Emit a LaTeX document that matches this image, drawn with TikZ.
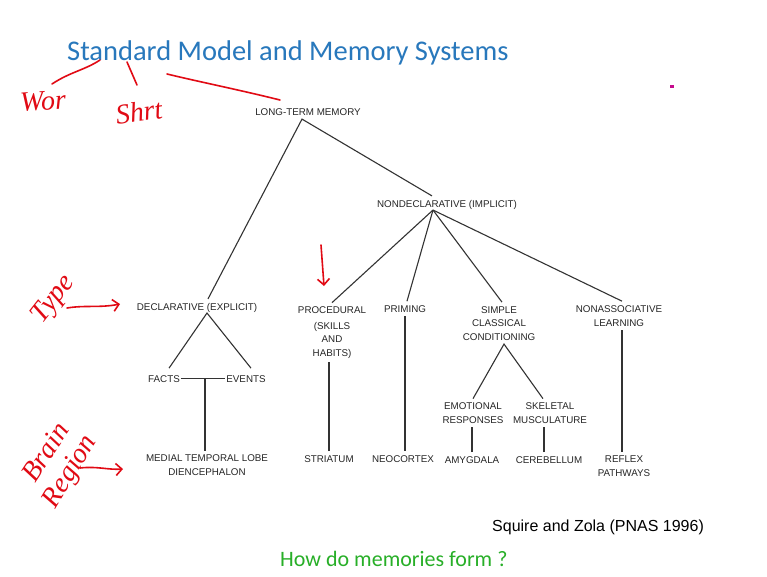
\documentclass[tikz,border=0pt]{standalone}
\usepackage{fontspec}
\setmainfont{Liberation Sans}
\newfontfamily\titlefont{Carlito}
\newfontfamily\handfont{Liberation Serif}
\usetikzlibrary{arrows.meta}
\definecolor{titleblue}{RGB}{40,120,188}
\definecolor{formgreen}{RGB}{40,175,40}
\definecolor{penred}{RGB}{225,10,20}

\begin{document}
\begin{tikzpicture}[x=1pt, y=-1pt,
    box/.style={font=\fontsize{9.8}{13.5}\selectfont, text=black!85, align=center, inner sep=0pt, outer xsep=1pt, outer ysep=4pt, anchor=base},
    link/.style={line width=1.1pt, black!80},
    pen/.style={penred, line width=1.6pt, line cap=round, line join=round},
    scrawl/.style={penred, font=\handfont\itshape\fontsize{28}{26}\selectfont, inner sep=0pt, align=center},
    >={Straight Barb[length=6pt,width=12pt]}]
  \fill[white] (0,0) rectangle (767,576);
  \useasboundingbox (0,0) rectangle (767,576);

  \node[anchor=base west, inner sep=0pt, font=\titlefont\fontsize{28.5}{28.5}\selectfont, text=titleblue] (title) at (67,60) {Standard Model and Memory Systems};

  % memory types (base = last line)
  \node[box] (ltm) at (308,115) {LONG-TERM MEMORY};
  \node[box] (nondecl) at (447,207) {NONDECLARATIVE (IMPLICIT)};
  \node[box] (decl) at (197,310) {DECLARATIVE (EXPLICIT)};
  \node[box] (proc) at (332,356) {PROCEDURAL\\[2pt](SKILLS\\AND\\HABITS)};
  \node[box] (prim) at (405,312) {PRIMING};
  \node[box] (simple) at (499,340) {SIMPLE\\CLASSICAL\\CONDITIONING};
  \node[box, font=\fontsize{9.8}{14}\selectfont] (nonassoc) at (619,326) {NONASSOCIATIVE\\LEARNING};
  \node[box] (facts) at (164,382) {FACTS};
  \node[box] (events) at (246,382) {EVENTS};
  \node[box] (emot) at (473,423) {EMOTIONAL\\RESPONSES};
  \node[box] (skel) at (550,423) {SKELETAL\\MUSCULATURE};

  % brain regions
  \node[box] (medial) at (207,475) {MEDIAL TEMPORAL LOBE\\DIENCEPHALON};
  \node[box] (striatum) at (329,462) {STRIATUM};
  \node[box] (neo) at (403,462) {NEOCORTEX};
  \node[box] (amyg) at (472,463) {AMYGDALA};
  \node[box] (cereb) at (549,463) {CEREBELLUM};
  \node[box] (reflex) at (624,476) {REFLEX\\PATHWAYS};

  \coordinate (ltmfork) at ([xshift=-6pt]ltm.south);
  \coordinate (ndfork) at ([xshift=-14pt,yshift=3pt]nondecl.south);
  \coordinate (declfork) at ([xshift=10pt,yshift=3pt]decl.south);
  \coordinate (simplefork) at ([xshift=5pt]simple.south);

  \draw[link] ([xshift=11pt]decl.north) -- (ltmfork) -- ([xshift=-15pt]nondecl.north);
  \foreach \n/\dx in {proc/0, prim/2, simple/3, nonassoc/3}
    \draw[link] (ndfork) -- ([xshift=\dx pt]\n.north);
  \draw[link] ([xshift=5pt,yshift=3pt]facts.north) -- (declfork) -- ([xshift=5pt,yshift=3pt]events.north);
  \draw[link] (facts.east) -- (events.west);
  \draw[link] ([xshift=-2pt]medial.north) -- ([xshift=-2pt]medial.north |- facts.east);
  \draw[link] (striatum.north) -- (striatum.north |- proc.south);
  \draw[link] (prim.south) -- (prim.south |- neo.north);
  \draw[link] (emot.north) -- (simplefork) -- ([xshift=-7pt]skel.north);
  \draw[link] (amyg.north) -- (amyg.north |- emot.south);
  \draw[link] ([xshift=-5pt]cereb.north) -- ([xshift=-5pt]cereb.north |- skel.south);
  \draw[link] ([xshift=-2pt]reflex.north) -- ([xshift=-2pt]reflex.north |- nonassoc.south);

  \node[anchor=base west, inner sep=0pt, font=\fontsize{16}{16}\selectfont] (cite) at (492,531) {Squire and Zola (PNAS 1996)};
  \node[anchor=base west, inner sep=0pt, font=\titlefont\fontsize{22}{22}\selectfont, text=formgreen] (question) at (280,566) {How do memories form ?};

  % red pen notes
  \node[scrawl, rotate=4] (wor) at (43,101) {Wor};
  \node[scrawl, rotate=8] (shrt) at (139,112) {Shrt};
  \node[scrawl, rotate=52] (type) at (54,300) {Type};
  \node[scrawl, rotate=57] (brain) at (45,452) {Brain};
  \node[scrawl, rotate=59] (region) at (71,472) {Region};
  \coordinate (typetip) at (120,304);
  \coordinate (braintip) at (123,469);
  \coordinate (proctip) at (324,286);
  \draw[pen] (52,84) .. controls (70,72) and (85,70) .. (100,60);
  \draw[pen] (127,62) -- (137,85);
  \draw[pen] (167,74) .. controls (200,82) and (240,90) .. (280,100);
  \draw[pen,->] (67,308) .. controls (85,305) and (100,308) .. (typetip);
  \draw[pen,->] (80,468) .. controls (97,466) and (108,470) .. (braintip);
  \draw[pen,->] (321,245) -- (proctip);
  \fill[magenta!80!blue] (670,85) rectangle (674,88);
\end{tikzpicture}
\end{document}
